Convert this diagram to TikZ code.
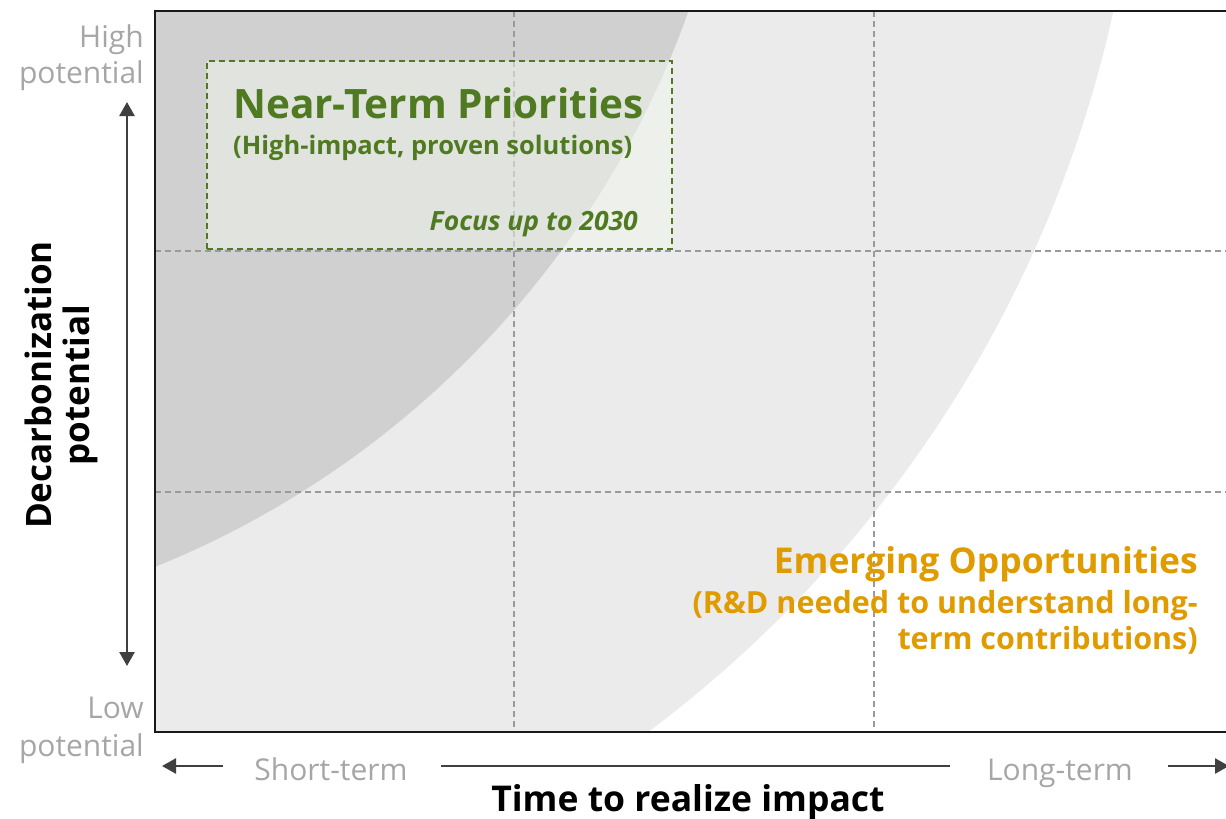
\documentclass[tikz,border=0pt]{standalone}
\usepackage{fontspec}
\setmainfont{Open Sans}
\usetikzlibrary{arrows.meta}
\definecolor{dkgray}{HTML}{D0D0D0}
\definecolor{ltgray}{HTML}{EBEBEB}
\definecolor{grn}{HTML}{4F7A21}
\definecolor{org}{HTML}{E09B00}
\definecolor{txtgray}{HTML}{A6A6A6}
\definecolor{arrgray}{HTML}{404040}
\definecolor{gridgray}{HTML}{9A9A9A}
\definecolor{boxfill}{HTML}{F2F6EE}
\begin{document}
\begin{tikzpicture}[x=1pt,y=-1pt,
  gridline/.style={draw=gridgray, line width=1.3pt, dash pattern=on 6pt off 4pt},
  framestyle/.style={draw=black!90, line width=2.5pt},
  boxstyle/.style={draw=grn, line width=1.4pt, dash pattern=on 6pt off 4pt, fill=boxfill, fill opacity=0.5, text opacity=1},
  axarrow/.style={draw=arrgray, line width=2.6pt},
  tipstyle/.style={-{Triangle[length=14pt,width=15pt]}},
  lbl/.style={inner sep=0pt, text=txtgray, font=\fontsize{30}{36}\selectfont},
  ttl/.style={inner sep=0pt, text=grn, font=\bfseries\fontsize{40.5}{48}\selectfont},
  sub/.style={inner sep=0pt, text=grn, font=\bfseries\fontsize{25.5}{30}\selectfont},
  focus/.style={inner sep=0pt, text=grn, font=\bfseries\itshape\fontsize{26.5}{30}\selectfont},
  emt/.style={inner sep=0pt, text=org, font=\bfseries\fontsize{35.5}{42}\selectfont},
  ems/.style={inner sep=0pt, text=org, font=\bfseries\fontsize{30.5}{36}\selectfont},
  axtitle/.style={inner sep=0pt, text=black, font=\bfseries\fontsize{35.5}{40}\selectfont}
]
\useasboundingbox (0,0) rectangle (1226,819);
% shaded regions
\begin{scope}
  \clip (155,11) rectangle (1226,732);
  \fill[ltgray] (-89,-254) circle[radius=1231pt];
  \fill[dkgray] (-197,-305) circle[radius=940pt];
\end{scope}
% grid
\draw[gridline] (514,11) -- (514,732);
\draw[gridline] (874,11) -- (874,732);
\draw[gridline] (155,251) -- (1226,251);
\draw[gridline] (155,492) -- (1226,492);
% frame
\draw[framestyle] (1230,11) -- (155,11) -- (155,732) -- (1230,732);
% near-term box
\node[boxstyle, minimum width=465pt, minimum height=188pt, inner sep=0pt] (ntpbox) at (439.5,155) {};
\node[ttl, anchor=base west] (ntp) at (233,118) {Near-Term Priorities};
\node[sub, anchor=base west] (ntpsub) at (233,154) {(High-impact, proven solutions)};
\node[focus, anchor=base east] (focus) at (638,230) {Focus up to 2030};
% emerging
\node[emt, anchor=base east] (emt) at (1198,573) {Emerging Opportunities};
\node[ems, anchor=base east] (ems1) at (1198,613) {(R\&D needed to understand long-};
\node[ems, anchor=base east] (ems2) at (1198,649) {term contributions)};
% y axis labels
\node[lbl, anchor=base east] (high) at (144,47) {High};
\node[lbl, anchor=base east] (hpot) at (144,83) {potential};
\node[lbl, anchor=base east] (low) at (144,718) {Low};
\node[lbl, anchor=base east] (lpot) at (144,756) {potential};
\coordinate (vtop) at (127,102);
\coordinate (vbot) at (127,666);
\draw[axarrow, {Triangle[length=14pt,width=15pt]}-{Triangle[length=14pt,width=15pt]}] (vtop) -- (vbot);
\node[axtitle, rotate=90, align=center, font=\bfseries\fontsize{35}{38}\selectfont] (ylab) at (61,385) {Decarbonization\\potential};
% x axis
\node[lbl, anchor=base] (short) at (331,780) {Short-term};
\node[lbl, anchor=base] (long) at (1060,780) {Long-term};
\coordinate (hl1) at (223,766);
\coordinate (hl0) at (162,766);
\coordinate (hm0) at (441,766);
\coordinate (hm1) at (950,766);
\coordinate (hr0) at (1168,766);
\coordinate (hr1) at (1229,766);
\draw[axarrow, tipstyle] (hl1) -- (hl0);
\draw[axarrow] (hm0) -- (hm1);
\draw[axarrow, tipstyle] (hr0) -- (hr1);
\node[axtitle, anchor=base] (xlab) at (688,811) {Time to realize impact};
\end{tikzpicture}
\end{document}
